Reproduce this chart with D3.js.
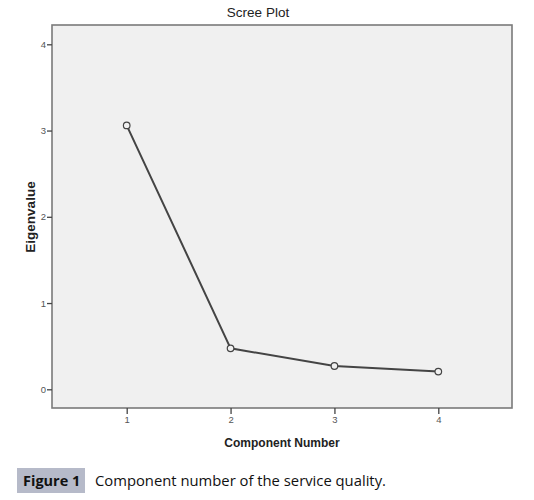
<!DOCTYPE html>
<html>
<head>
<meta charset="utf-8">
<script src="https://cdn.jsdelivr.net/npm/d3@7"></script>
<style>
  body { margin: 0; background: #fff; }
  svg { display: block; }
</style>
</head>
<body>
<script>
var components = [1, 2, 3, 4];
var eigenvalues = [3.06, 0.475, 0.27, 0.205];
var yTicks = [0, 1, 2, 3, 4];

var width = 534, height = 500;

// plot frame
var frame = { left: 52, right: 512, top: 25, bottom: 408 };

var x = d3.scaleLinear()
    .domain([1, 4])
    .range([126.7, 438.3]);

var y = d3.scaleLinear()
    .domain([0, 4])
    .range([389.3, 44.3]);

var svg = d3.select('body').append('svg')
    .attr('width', width)
    .attr('height', height);

svg.append('rect')
    .attr('x', frame.left)
    .attr('y', frame.top)
    .attr('width', frame.right - frame.left)
    .attr('height', frame.bottom - frame.top)
    .attr('fill', '#f0f0f0')
    .attr('stroke', '#7a7a7a')
    .attr('stroke-width', 1.6);

var yAxis = d3.axisLeft(y)
    .tickValues(yTicks)
    .tickSize(5)
    .tickPadding(1)
    .tickFormat(d3.format('d'));

var gy = svg.append('g')
    .attr('transform', 'translate(' + frame.left + ',0)')
    .call(yAxis);

var xAxis = d3.axisBottom(x)
    .tickValues(components)
    .tickSize(6)
    .tickPadding(2)
    .tickFormat(d3.format('d'));

var gx = svg.append('g')
    .attr('transform', 'translate(0,' + frame.bottom + ')')
    .call(xAxis);

[gx, gy].forEach(function(g) {
    g.select('.domain').remove();
    g.selectAll('.tick line').attr('stroke', '#444').attr('stroke-width', 1.3);
    g.selectAll('.tick text')
        .attr('fill', '#555')
        .style('font-family', 'Liberation Sans, Arial, sans-serif')
        .style('font-size', '9.5px');
});

var line = d3.line()
    .x(function(d, i) { return x(components[i]); })
    .y(function(d) { return y(d); });

svg.append('path')
    .attr('d', line(eigenvalues))
    .attr('fill', 'none')
    .attr('stroke', '#444')
    .attr('stroke-width', 2);

svg.selectAll('circle.pt')
    .data(eigenvalues)
    .enter().append('circle')
    .attr('class', 'pt')
    .attr('cx', function(d, i) { return x(components[i]); })
    .attr('cy', function(d) { return y(d); })
    .attr('r', 3.3)
    .attr('fill', '#f0f0f0')
    .attr('stroke', '#444')
    .attr('stroke-width', 1.2);

// titles
svg.append('text')
    .attr('x', 258)
    .attr('y', 17)
    .attr('text-anchor', 'middle')
    .style('font-family', 'Liberation Sans, Arial, sans-serif')
    .style('font-size', '13.5px')
    .attr('fill', '#222')
    .text('Scree Plot');

svg.append('text')
    .attr('x', 282)
    .attr('y', 447)
    .attr('text-anchor', 'middle')
    .style('font-family', 'Liberation Sans, Arial, sans-serif')
    .style('font-size', '12px')
    .style('font-weight', 'bold')
    .attr('fill', '#222')
    .text('Component Number');

svg.append('text')
    .attr('transform', 'translate(35,217) rotate(-90)')
    .attr('text-anchor', 'middle')
    .style('font-family', 'Liberation Sans, Arial, sans-serif')
    .style('font-size', '13.5px')
    .style('font-weight', 'bold')
    .attr('fill', '#222')
    .text('Eigenvalue');

// caption
svg.append('rect')
    .attr('x', 17)
    .attr('y', 468)
    .attr('width', 68)
    .attr('height', 25)
    .attr('fill', '#b6bac9');

svg.append('text')
    .attr('x', 23)
    .attr('y', 486)
    .style('font-family', 'Open Sans, sans-serif')
    .style('font-size', '14.5px')
    .style('font-weight', 'bold')
    .attr('fill', '#111')
    .text('Figure 1');

svg.append('text')
    .attr('x', 95)
    .attr('y', 486)
    .style('font-family', 'Open Sans, sans-serif')
    .style('font-size', '14.8px')
    .attr('fill', '#111')
    .text('Component number of the service quality.');
</script>
</body>
</html>
